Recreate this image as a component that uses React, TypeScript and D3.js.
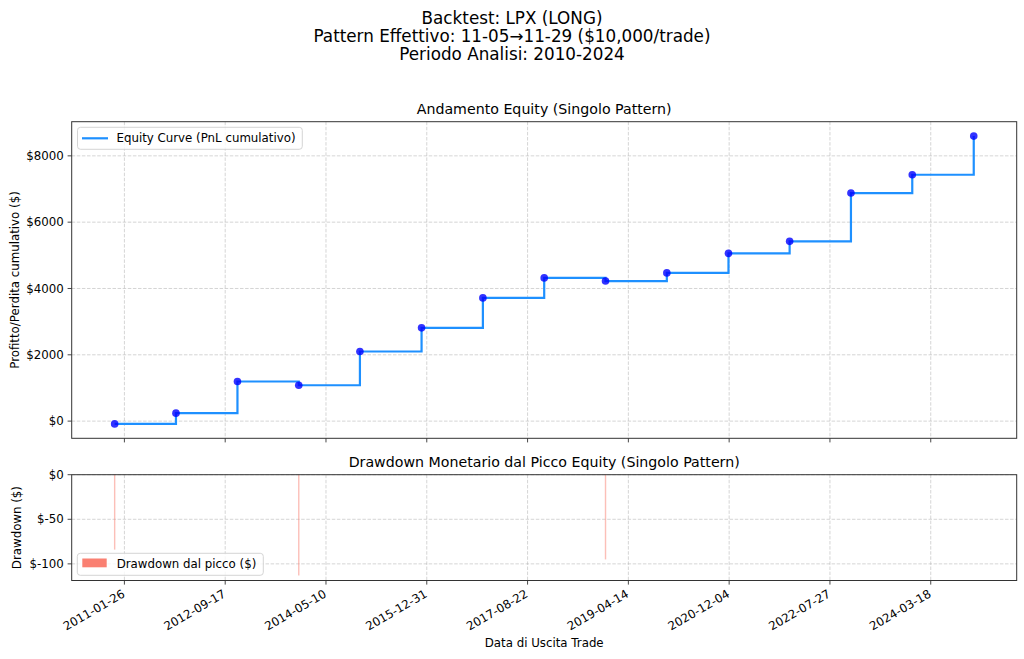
import { FC } from "react";
import * as d3 from "d3";

// trade exit dates and cumulative PnL after each trade ($)
const exitDates = [
  "2010-11-29", "2011-11-29", "2012-11-29", "2013-11-29", "2014-11-28",
  "2015-11-30", "2016-11-29", "2017-11-29", "2018-11-29", "2019-11-29",
  "2020-11-30", "2021-11-29", "2022-11-29", "2023-11-29", "2024-11-29",
];
const cumPnl = [
  -84, 241, 1195, 1082, 2099, 2813, 3716, 4319, 4224, 4470, 5060, 5421, 6879, 7430, 8596,
];

const xTickLabels = [
  "2011-01-26", "2012-09-17", "2014-05-10", "2015-12-31", "2017-08-22",
  "2019-04-14", "2020-12-04", "2022-07-27", "2024-03-18",
];
const equityTicks = [0, 2000, 4000, 6000, 8000];
const ddTicks = [0, -50, -100];

const titleLines = [
  "Backtest: LPX (LONG)",
  "Pattern Effettivo: 11-05\u219211-29 ($10,000/trade)",
  "Periodo Analisi: 2010-2024",
];

const FONT = "DejaVu Sans, sans-serif";
const W = 1024, H = 659;
const LEFT = 71.7, RIGHT = 1016.7;
const TOP1 = 121.7, BOT1 = 438.3;
const TOP2 = 474.7, BOT2 = 580.5;
const GRID = { stroke: "#b0b0b0", strokeOpacity: 0.6, strokeWidth: 0.9, strokeDasharray: "3.5,1.6" };
const AXIS = "#333333";

const parse = d3.utcParse("%Y-%m-%d");

const App: FC = () => {
  const dates = exitDates.map((d) => parse(d) as Date);
  const data = dates.map((d, i) => ({ date: d, value: cumPnl[i] }));

  // drawdown from running peak (peak starts at 0)
  let peak = 0;
  const dd = data.map((d) => {
    peak = Math.max(peak, d.value);
    return { date: d.date, value: d.value - peak };
  });

  const [t0, t1] = d3.extent(dates) as [Date, Date];
  const span = +t1 - +t0;
  const xScale = d3
    .scaleUtc()
    .domain([new Date(+t0 - span * 0.05), new Date(+t1 + span * 0.05)])
    .range([LEFT, RIGHT]);

  const [vMin, vMax] = d3.extent(cumPnl) as [number, number];
  const vSpan = vMax - vMin;
  const yScale = d3
    .scaleLinear()
    .domain([vMin - vSpan * 0.05, vMax + vSpan * 0.05])
    .range([BOT1, TOP1]);

  const ddMin = d3.min(dd, (d) => d.value) || -1;
  const yDD = d3
    .scaleLinear()
    .domain([ddMin * 1.05, 0])
    .range([BOT2, TOP2]);

  const xTicks = xTickLabels.map((s) => parse(s) as Date);

  const line = d3
    .line<{ date: Date; value: number }>()
    .x((d) => xScale(d.date))
    .y((d) => yScale(d.value))
    .curve(d3.curveStepAfter);

  const xGrid = (y1: number, y2: number) =>
    xTicks.map((t, i) => (
      <line key={"gx" + i} x1={xScale(t)} x2={xScale(t)} y1={y1} y2={y2} {...GRID} />
    ));

  const xTickMarks = (y: number) =>
    xTicks.map((t, i) => (
      <line key={"tx" + i} x1={xScale(t)} x2={xScale(t)} y1={y} y2={y + 4.1} stroke={AXIS} strokeWidth={0.9} />
    ));

  return (
    <div style={{ position: "absolute", left: 0, top: 0 }}>
      <svg width={W} height={H} fontFamily={FONT} style={{ display: "block", background: "#fff" }}>
        {titleLines.map((t, i) => (
          <text key={i} x={W / 2} y={23.8 + i * 18.2} textAnchor="middle" fontSize={16.8} fill="#000">
            {t}
          </text>
        ))}

        {/* ---------- equity panel ---------- */}
        <text x={(LEFT + RIGHT) / 2} y={TOP1 - 8} textAnchor="middle" fontSize={14.2}>
          Andamento Equity (Singolo Pattern)
        </text>
        {xGrid(TOP1, BOT1)}
        {equityTicks.map((v, i) => (
          <g key={"ey" + i}>
            <line x1={LEFT} x2={RIGHT} y1={yScale(v)} y2={yScale(v)} {...GRID} />
            <line x1={LEFT - 4.1} x2={LEFT} y1={yScale(v)} y2={yScale(v)} stroke={AXIS} strokeWidth={0.9} />
            <text x={LEFT - 8} y={yScale(v)} dy="0.35em" textAnchor="end" fontSize={11.8}>
              {"$" + v}
            </text>
          </g>
        ))}
        {xTickMarks(BOT1)}
        <path d={line(data) || ""} fill="none" stroke="#1e90ff" strokeWidth={2.2} />
        {data.map((d, i) => (
          <circle key={"p" + i} cx={xScale(d.date)} cy={yScale(d.value)} r={3.8} fill="#0000ff" fillOpacity={0.8} />
        ))}
        <rect x={LEFT} y={TOP1} width={RIGHT - LEFT} height={BOT1 - TOP1} fill="none" stroke={AXIS} strokeWidth={1} />
        <text
          transform={`translate(15,${(TOP1 + BOT1) / 2}) rotate(-90)`}
          textAnchor="middle"
          dy="0.35em"
          fontSize={11.8}
        >
          Profitto/Perdita cumulativo ($)
        </text>
        <g>
          <rect x={77.5} y={127.3} width={224.8} height={22} rx={3} fill="#fff" fillOpacity={0.8} stroke="#d0d0d0" strokeWidth={0.9} />
          <line x1={82} x2={108} y1={138.3} y2={138.3} stroke="#1e90ff" strokeWidth={2.2} />
          <text x={116.5} y={138.3} dy="0.35em" fontSize={11.8}>
            Equity Curve (PnL cumulativo)
          </text>
        </g>

        {/* ---------- drawdown panel ---------- */}
        <text x={(LEFT + RIGHT) / 2} y={TOP2 - 7.5} textAnchor="middle" fontSize={14.2}>
          Drawdown Monetario dal Picco Equity (Singolo Pattern)
        </text>
        {xGrid(TOP2, BOT2)}
        {ddTicks.map((v, i) => (
          <g key={"dy" + i}>
            <line x1={LEFT} x2={RIGHT} y1={yDD(v)} y2={yDD(v)} {...GRID} />
            <line x1={LEFT - 4.1} x2={LEFT} y1={yDD(v)} y2={yDD(v)} stroke={AXIS} strokeWidth={0.9} />
            <text x={LEFT - 8} y={yDD(v)} dy="0.35em" textAnchor="end" fontSize={11.8}>
              {"$" + v}
            </text>
          </g>
        ))}
        {dd
          .filter((d) => d.value < 0)
          .map((d, i) => (
            <rect
              key={"dd" + i}
              x={xScale(d.date) - 0.7}
              y={yDD(0)}
              width={1.4}
              height={yDD(d.value) - yDD(0)}
              fill="#fa8072"
              fillOpacity={0.5}
            />
          ))}
        {xTickMarks(BOT2)}
        {xTicks.map((t, i) => (
          <text
            key={"xl" + i}
            transform={`translate(${xScale(t) - 3},${BOT2 + 8.5}) rotate(-30)`}
            textAnchor="end"
            dy="0.72em"
            fontSize={11.8}
          >
            {xTickLabels[i]}
          </text>
        ))}
        <rect x={LEFT} y={TOP2} width={RIGHT - LEFT} height={BOT2 - TOP2} fill="none" stroke={AXIS} strokeWidth={1} />
        <text
          transform={`translate(17,${(TOP2 + BOT2) / 2}) rotate(-90)`}
          textAnchor="middle"
          dy="0.35em"
          fontSize={11.8}
        >
          Drawdown ($)
        </text>
        <g>
          <rect x={77.3} y={553.3} width={186} height={22} rx={3} fill="#fff" fillOpacity={0.8} stroke="#d0d0d0" strokeWidth={0.9} />
          <rect x={82.3} y={558.5} width={24.4} height={8.8} fill="#fa8072" />
          <text x={116.7} y={564.3} dy="0.35em" fontSize={11.8}>
            Drawdown dal picco ($)
          </text>
        </g>
        <text x={(LEFT + RIGHT) / 2} y={647} textAnchor="middle" fontSize={11.8}>
          Data di Uscita Trade
        </text>
      </svg>
    </div>
  );
};

export default App;
